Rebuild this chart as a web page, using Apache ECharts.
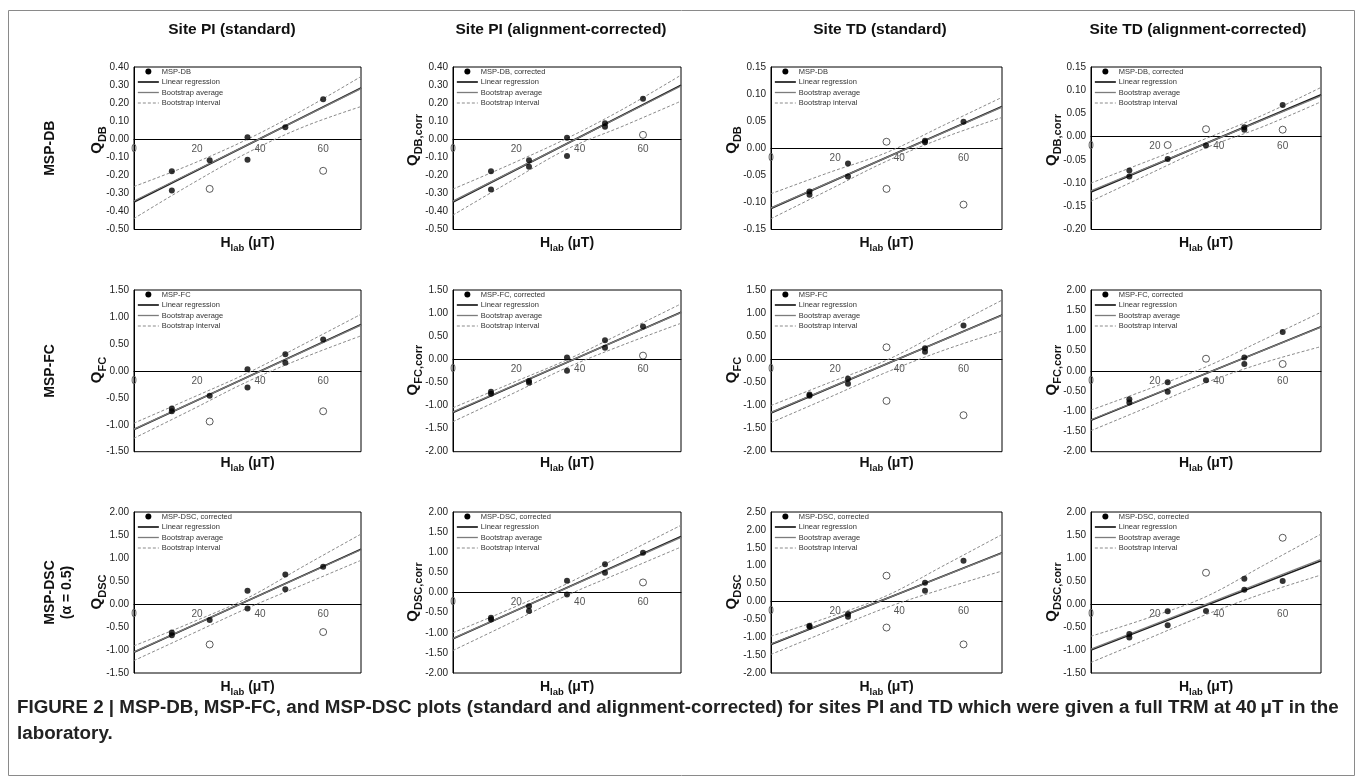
<!DOCTYPE html>
<html><head><meta charset="utf-8">
<script src="https://cdn.jsdelivr.net/npm/echarts@6/dist/echarts.min.js"></script>
<style>html,body{margin:0;padding:0;background:#fff;} #c{width:1357px;height:781px;}</style>
</head><body><div id="c"></div>
<script>
// ---------------- DATA ----------------
const columnTitles = ['Site PI (standard)', 'Site PI (alignment-corrected)', 'Site TD (standard)', 'Site TD (alignment-corrected)'];
const rowLabels = [['MSP-DB'], ['MSP-FC'], ['MSP-DSC', '(\u03b1 = 0.5)']];
const pointLabels = ['MSP-DB', 'MSP-DB, corrected', 'MSP-DB', 'MSP-DB, corrected',
  'MSP-FC', 'MSP-FC, corrected', 'MSP-FC', 'MSP-FC, corrected',
  'MSP-DSC, corrected', 'MSP-DSC, corrected', 'MSP-DSC, corrected', 'MSP-DSC, corrected'];
const yTitleSubs = ['DB', 'DB,corr', 'DB', 'DB,corr', 'FC', 'FC,corr', 'FC', 'FC,corr', 'DSC', 'DSC,corr', 'DSC', 'DSC,corr'];
const legendNames = ['Linear regression', 'Bootstrap average', 'Bootstrap interval'];

const xRange = [0, 72];
const xStep = 20;
const yMin = [-0.50, -0.50, -0.15, -0.20, -1.50, -2.00, -2.00, -2.00, -1.50, -2.00, -2.00, -1.50];
const yMax = [0.40, 0.40, 0.15, 0.15, 1.50, 1.50, 1.50, 2.00, 2.00, 2.00, 2.50, 2.00];
const yStep = [0.10, 0.10, 0.05, 0.05, 0.50, 0.50, 0.50, 0.50, 0.50, 0.50, 0.50, 0.50];

const filledPoints = [
  [[12,-0.177],[12,-0.284],[24,-0.116],[36,0.011],[36,-0.113],[48,0.066],[60,0.221]],
  [[12,-0.177],[12,-0.278],[24,-0.116],[24,-0.153],[36,0.008],[36,-0.093],[48,0.088],[48,0.069],[60,0.224]],
  [[12,-0.080],[12,-0.086],[24,-0.028],[24,-0.052],[48,0.014],[48,0.011],[60,0.049]],
  [[12,-0.073],[12,-0.086],[24,-0.048],[36,-0.019],[48,0.020],[48,0.015],[60,0.068]],
  [[12,-0.70],[12,-0.75],[24,-0.46],[36,0.03],[36,-0.31],[48,0.31],[48,0.15],[60,0.58]],
  [[12,-0.70],[12,-0.745],[24,-0.47],[24,-0.51],[36,0.04],[36,-0.25],[48,0.41],[48,0.25],[60,0.71]],
  [[12,-0.76],[12,-0.79],[24,-0.42],[24,-0.53],[48,0.24],[48,0.165],[60,0.73]],
  [[12,-0.70],[12,-0.78],[24,-0.28],[24,-0.52],[36,-0.23],[48,0.33],[48,0.17],[60,0.96]],
  [[12,-0.62],[12,-0.68],[24,-0.35],[36,0.29],[36,-0.10],[48,0.64],[48,0.32],[60,0.81]],
  [[12,-0.63],[12,-0.67],[24,-0.34],[24,-0.46],[36,0.29],[36,-0.05],[48,0.70],[48,0.49],[60,0.99]],
  [[12,-0.68],[12,-0.71],[24,-0.35],[24,-0.43],[48,0.52],[48,0.30],[60,1.14]],
  [[12,-0.65],[12,-0.73],[24,-0.16],[24,-0.46],[36,-0.15],[48,0.55],[48,0.31],[60,0.50]]
];
const openPoints = [
  [[24,-0.275],[60,-0.175]],
  [[60,0.024]],
  [[36,0.012],[36,-0.075],[60,-0.104]],
  [[24,-0.018],[36,0.016],[60,0.015]],
  [[24,-0.94],[60,-0.75]],
  [[60,0.08]],
  [[36,0.26],[36,-0.90],[60,-1.21]],
  [[36,0.30],[60,0.17]],
  [[24,-0.88],[60,-0.61]],
  [[60,0.25]],
  [[36,0.72],[36,-0.73],[60,-1.20]],
  [[36,0.68],[60,1.44]]
];
const lineX = [0, 72];
const regressionLines = [
  [-0.347,0.284],[-0.347,0.299],[-0.111,0.077],[-0.119,0.090],
  [-1.09,0.86],[-1.15,1.02],[-1.16,0.96],[-1.22,1.09],
  [-1.05,1.19],[-1.15,1.39],[-1.20,1.36],[-1.00,0.94]
];
const averageLines = [
  [-0.342,0.280],[-0.343,0.295],[-0.110,0.076],[-0.117,0.088],
  [-1.08,0.85],[-1.14,1.01],[-1.15,0.95],[-1.21,1.08],
  [-1.04,1.18],[-1.14,1.37],[-1.19,1.35],[-0.98,0.97]
];
const bandX = [0, 18, 36, 54, 72];
const upperBands = [
  [-0.262,-0.14,0.0,0.165,0.347],
  [-0.276,-0.14,0.005,0.17,0.355],
  [-0.084,-0.045,-0.008,0.043,0.094],
  [-0.100,-0.052,-0.004,0.047,0.106],
  [-0.97,-0.51,-0.04,0.50,1.05],
  [-1.05,-0.53,-0.01,0.59,1.20],
  [-1.00,-0.51,-0.02,0.63,1.28],
  [-0.97,-0.45,0.10,0.77,1.45],
  [-0.91,-0.41,0.13,0.83,1.52],
  [-1.00,-0.41,0.22,0.95,1.67],
  [-0.97,-0.44,0.16,1.01,1.87],
  [-0.70,-0.30,0.16,0.84,1.52]
];
const lowerBands = [
  [-0.439,-0.25,-0.075,0.07,0.181],
  [-0.420,-0.235,-0.055,0.075,0.211],
  [-0.130,-0.077,-0.024,0.020,0.057],
  [-0.139,-0.081,-0.024,0.022,0.075],
  [-1.25,-0.73,-0.20,0.25,0.65],
  [-1.35,-0.77,-0.18,0.32,0.78],
  [-1.37,-0.83,-0.28,0.20,0.61],
  [-1.48,-0.89,-0.29,0.20,0.60],
  [-1.23,-0.66,-0.09,0.43,0.95],
  [-1.44,-0.76,-0.07,0.53,1.13],
  [-1.48,-0.82,-0.17,0.36,0.85],
  [-1.27,-0.75,-0.23,0.23,0.63]
];
const captionText = 'FIGURE 2 | MSP-DB, MSP-FC, and MSP-DSC plots (standard and alignment-corrected) for sites PI and TD which were given a full TRM at 40\u2009\u03bcT in the\nlaboratory.';

// ---------------- LAYOUT ----------------
const FONT = '"Liberation Sans", Arial, sans-serif';
const colLeft = [134, 453, 771, 1091];
const colRight = [361, 681, 1002, 1321];
const rowTop = [67, 290, 512];
const rowBottom = [229.5, 451.7, 673];
const colTitleX = [232, 561, 880, 1198];
const yTitleX = [97, 413, 732, 1052];
const yTitleY = [140, 370, 592];
const xTitleY = [243, 463, 687];
const lineStyles = {
  'Linear regression': {color: '#1a1a1a', width: 1.7},
  'Bootstrap average': {color: '#7c7c7c', width: 1.3},
  'Bootstrap interval': {color: '#8a8a8a', width: 1, type: [3, 2]}
};

const grids = [], xAxes = [], yAxes = [], series = [], legends = [], graphics = [];

for (let i = 0; i < 12; i++) {
  const r = Math.floor(i / 4), c = i % 4;
  const L = colLeft[c], T = rowTop[r], W = colRight[c] - L, H = rowBottom[r] - T;
  // x axis crosses the value axis at zero: shift it up from the bottom edge by the zero's share of the height
  const zeroShift = H * (0 - yMin[i]) / (yMax[i] - yMin[i]);
  grids.push({left: L, top: T, width: W, height: H, show: true, borderColor: '#000', borderWidth: 1,
    backgroundColor: 'transparent', containLabel: false, outerBoundsMode: 'none'});
  xAxes.push({gridIndex: i, type: 'value', min: xRange[0], max: xRange[1], interval: xStep,
    position: 'bottom', offset: -zeroShift,
    axisLine: {onZero: false, lineStyle: {color: '#000', width: 1}}, axisTick: {show: false},
    splitLine: {show: false},
    axisLabel: {showMaxLabel: false, fontSize: 10, color: '#555', margin: 5, fontFamily: FONT}});
  yAxes.push({gridIndex: i, type: 'value', min: yMin[i], max: yMax[i], interval: yStep[i],
    axisLine: {show: true, onZero: false, lineStyle: {color: '#000', width: 1}}, axisTick: {show: false},
    splitLine: {show: false},
    axisLabel: {fontSize: 10, color: '#222', margin: 5, fontFamily: FONT, formatter: v => v.toFixed(2)}});

  const common = {xAxisIndex: i, yAxisIndex: i, silent: true, animation: false};
  const band = lineStyles['Bootstrap interval'];
  series.push(Object.assign({type: 'line', name: 'Bootstrap interval', data: bandX.map((x, k) => [x, upperBands[i][k]]),
    smooth: 0.35, symbol: 'none', lineStyle: band, itemStyle: {color: band.color}, z: 2}, common));
  series.push(Object.assign({type: 'line', name: 'Bootstrap interval', data: bandX.map((x, k) => [x, lowerBands[i][k]]),
    smooth: 0.35, symbol: 'none', lineStyle: band, itemStyle: {color: band.color}, z: 2}, common));
  series.push(Object.assign({type: 'line', name: 'Linear regression', data: lineX.map((x, k) => [x, regressionLines[i][k]]),
    symbol: 'none', lineStyle: lineStyles['Linear regression'],
    itemStyle: {color: lineStyles['Linear regression'].color}, z: 3}, common));
  series.push(Object.assign({type: 'line', name: 'Bootstrap average', data: lineX.map((x, k) => [x, averageLines[i][k]]),
    symbol: 'none', lineStyle: lineStyles['Bootstrap average'],
    itemStyle: {color: lineStyles['Bootstrap average'].color}, z: 4}, common));
  series.push(Object.assign({type: 'scatter', name: pointLabels[i], data: filledPoints[i], symbol: 'circle',
    symbolSize: 6, itemStyle: {color: '#000'}, z: 5}, common));
  series.push(Object.assign({type: 'scatter', name: 'Excluded', data: openPoints[i], symbol: 'circle',
    symbolSize: 7, itemStyle: {color: '#fff', borderColor: '#000', borderWidth: 0.8}, z: 5}, common));

  legends.push({left: L + 3, top: T + 0.5, orient: 'vertical', itemWidth: 21, itemHeight: 6, itemGap: 2.5,
    padding: 0, selectedMode: false,
    textStyle: {fontSize: 7.5, color: '#333', fontFamily: FONT, padding: [0, 0, 0, -2]},
    data: [{name: pointLabels[i], icon: 'circle', itemStyle: {color: '#000', opacity: 1}}].concat(
      legendNames.map(n => ({name: n, itemStyle: {opacity: 0, borderWidth: 0},
        lineStyle: Object.assign({opacity: 1}, lineStyles[n])})))});

  // y axis title
  graphics.push({type: 'text', x: yTitleX[c], y: yTitleY[r], rotation: Math.PI / 2,
    style: {text: '{q|Q}{s|' + yTitleSubs[i] + '}', align: 'center', verticalAlign: 'middle', fill: '#111',
      rich: {q: {fontSize: 15, fontWeight: 'bold', fontFamily: FONT, lineHeight: 22, verticalAlign: 'middle', fill: '#111'},
             s: {fontSize: 11, fontWeight: 'bold', fontFamily: FONT, lineHeight: 22, verticalAlign: 'bottom', fill: '#111'}}}});
  // x axis title
  graphics.push({type: 'text', x: (L + colRight[c]) / 2, y: xTitleY[r],
    style: {text: '{h|H}{s|lab}{h| (\u03bcT)}', align: 'center', verticalAlign: 'middle', fill: '#111',
      rich: {h: {fontSize: 14, fontWeight: 'bold', fontFamily: FONT, lineHeight: 20, verticalAlign: 'middle', fill: '#111'},
             s: {fontSize: 9.5, fontWeight: 'bold', fontFamily: FONT, lineHeight: 20, verticalAlign: 'bottom', fill: '#111'}}}});
}

columnTitles.forEach((t, c) => graphics.push({type: 'text', x: colTitleX[c], y: 30,
  style: {text: t, align: 'center', verticalAlign: 'middle', font: 'bold 15.5px ' + FONT, fill: '#111'}}));

rowLabels.forEach((lines, r) => {
  const cy = (rowTop[r] + rowBottom[r]) / 2;
  lines.forEach((t, k) => graphics.push({type: 'text', x: 50 + k * 17, y: cy, rotation: Math.PI / 2,
    style: {text: t, align: 'center', verticalAlign: 'middle', font: 'bold 14px ' + FONT, fill: '#111'}}));
});

graphics.push({type: 'rect', shape: {x: 8.5, y: 10.5, width: 1346, height: 765}, silent: true,
  style: {fill: 'none', stroke: '#8a8a8a', lineWidth: 1}});
graphics.push({type: 'text', x: 17, y: 695,
  style: {text: captionText, font: 'bold 18.8px ' + FONT, lineHeight: 26, fill: '#222', align: 'left', verticalAlign: 'top'}});

const chart = echarts.init(document.getElementById('c'), null, {renderer: 'canvas'});
chart.setOption({
  animation: false,
  backgroundColor: '#fff',
  grid: grids, xAxis: xAxes, yAxis: yAxes, series: series, legend: legends, graphic: graphics
});
</script></body></html>
